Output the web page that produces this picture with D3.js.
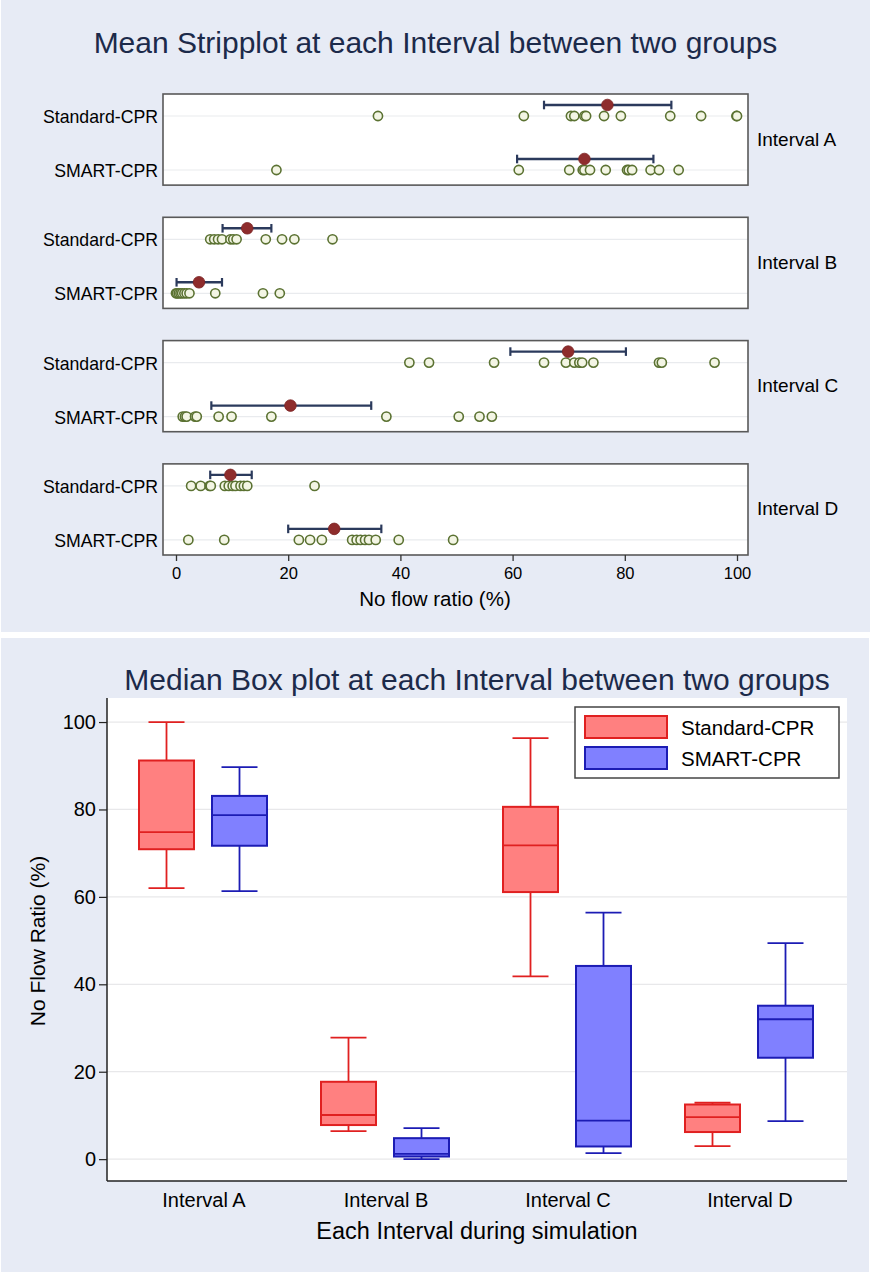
<!DOCTYPE html>
<html>
<head>
<meta charset="utf-8">
<script src="https://cdn.jsdelivr.net/npm/d3@7"></script>
<style>
  html, body { margin: 0; padding: 0; background: #ffffff; }
  svg { display: block; }
  text { font-family: "Liberation Sans", Arial, Helvetica, sans-serif; }
</style>
</head>
<body>
<svg id="chart" width="871" height="1272"></svg>
<script>
// ---------------- DATA ----------------
const intervals = ["Interval A", "Interval B", "Interval C", "Interval D"];
const groups = ["Standard-CPR", "SMART-CPR"];
const stripTicks = [0, 20, 40, 60, 80, 100];
const boxTicks = [0, 20, 40, 60, 80, 100];

// individual observations (strip plot), one list per interval
const stripStandard = [
  [36.0, 62.0, 70.4, 71.0, 72.8, 73.1, 76.3, 79.3, 88.1, 93.6, 99.9, 100],
  [6.1, 6.8, 7.5, 8.2, 9.7, 10.2, 10.8, 16.0, 18.9, 21.1, 27.9],
  [41.6, 45.1, 56.7, 65.6, 69.5, 71.0, 71.9, 72.4, 74.4, 86.1, 86.6, 96.0],
  [2.7, 4.4, 6.0, 6.2, 8.7, 9.4, 10.1, 10.6, 11.5, 12.1, 12.7, 24.7]
];
const stripSmart = [
  [17.9, 61.1, 70.1, 72.5, 72.8, 73.8, 76.6, 80.4, 80.7, 81.3, 84.6, 86.1, 89.6],
  [0, 0.2, 0.5, 0.8, 1.1, 1.5, 1.9, 2.4, 7.0, 15.5, 18.5],
  [1.2, 1.6, 1.9, 3.4, 3.7, 7.6, 9.9, 17.0, 37.5, 50.4, 54.1, 56.3],
  [2.2, 8.6, 21.9, 23.9, 26.0, 31.4, 32.2, 32.9, 33.7, 34.4, 35.6, 39.7, 49.4]
];

// means and 95% CI
const meanStandard   = [76.9, 12.7, 69.9, 9.7];
const ciLowStandard  = [65.6, 8.3, 59.6, 6.1];
const ciHighStandard = [88.3, 17.0, 80.2, 13.5];
const meanSmart   = [72.8, 4.1, 20.4, 28.2];
const ciLowSmart  = [60.8, 0.1, 6.3, 20.0];
const ciHighSmart = [85.1, 8.2, 34.8, 36.6];

// box plot statistics
const boxMinStandard = [62.0, 6.4, 41.8, 3.0];
const boxQ1Standard  = [70.9, 7.8, 61.1, 6.2];
const boxMedStandard = [74.8, 10.1, 71.8, 9.6];
const boxQ3Standard  = [91.2, 17.7, 80.6, 12.5];
const boxMaxStandard = [100, 27.8, 96.3, 12.9];
const boxMinSmart = [61.3, 0, 1.4, 8.7];
const boxQ1Smart  = [71.7, 0.6, 2.9, 23.2];
const boxMedSmart = [78.7, 1.2, 8.8, 32.0];
const boxQ3Smart  = [83.1, 4.8, 44.2, 35.1];
const boxMaxSmart = [89.7, 7.1, 56.4, 49.4];

// ---------------- STYLE ----------------
const BG = "#e7ebf5";
const TITLE = "#1c2a4a";
const PT_STROKE = "#5b7232";
const PT_FILL = "#f3f5e4";
const MEAN_FILL = "#8e2c2c";
const CI_COLOR = "#2b3a5c";
const STD_FILL = "#ff8080", STD_STROKE = "#e02020";
const SM_FILL = "#8080ff", SM_STROKE = "#1c1cb4";
const FONT = "'Liberation Sans', Arial, sans-serif";

const svg = d3.select("#chart");

// backgrounds
svg.append("rect").attr("x", 1).attr("y", 0).attr("width", 869).attr("height", 632).attr("fill", BG);
svg.append("rect").attr("x", 1).attr("y", 638).attr("width", 868).attr("height", 634).attr("fill", BG);

// ================= TOP: STRIP PLOT =================
svg.append("text").attr("x", 435.5).attr("y", 53).attr("text-anchor", "middle")
  .attr("font-size", 30).attr("fill", TITLE)
  .text("Mean Stripplot at each Interval between two groups");

const panelLeft = 163, panelRight = 748;
const xs = d3.scaleLinear().domain([0, 100]).range([176, 737]);
const panelY = d3.scaleBand().domain(intervals).range([94, 555]).paddingInner(0.261).paddingOuter(0);
const rowY = d3.scalePoint().domain(groups).range([22, 76]);
const ph = panelY.bandwidth();

const stripSeries = [
  { g: groups[0], pts: stripStandard, mean: meanStandard, lo: ciLowStandard, hi: ciHighStandard },
  { g: groups[1], pts: stripSmart, mean: meanSmart, lo: ciLowSmart, hi: ciHighSmart }
];

intervals.forEach((iv, i) => {
  const top = panelY(iv);
  const p = svg.append("g").attr("transform", `translate(0,${top})`);
  p.append("rect").attr("x", panelLeft).attr("y", 0).attr("width", panelRight - panelLeft)
    .attr("height", ph).attr("fill", "#ffffff");
  groups.forEach(g => {
    p.append("line").attr("x1", panelLeft).attr("x2", panelRight)
      .attr("y1", rowY(g)).attr("y2", rowY(g)).attr("stroke", "#e9ebee").attr("stroke-width", 1.2);
  });
  stripSeries.forEach(s => {
    const y = rowY(s.g);
    p.append("g").selectAll("circle").data(s.pts[i]).join("circle")
      .attr("cx", d => xs(d)).attr("cy", y).attr("r", 4.6)
      .attr("fill", PT_FILL).attr("stroke", PT_STROKE).attr("stroke-width", 1.6);
    const ym = y - 11;
    p.append("line").attr("x1", xs(s.lo[i])).attr("x2", xs(s.hi[i])).attr("y1", ym).attr("y2", ym)
      .attr("stroke", CI_COLOR).attr("stroke-width", 2.4);
    [s.lo[i], s.hi[i]].forEach(v => {
      p.append("line").attr("x1", xs(v)).attr("x2", xs(v)).attr("y1", ym - 4.3).attr("y2", ym + 4.3)
        .attr("stroke", CI_COLOR).attr("stroke-width", 2.2);
    });
    p.append("circle").attr("cx", xs(s.mean[i])).attr("cy", ym).attr("r", 5.8)
      .attr("fill", MEAN_FILL).attr("stroke", "#7a2222").attr("stroke-width", 0.8);
    p.append("text").attr("x", 158).attr("y", y + 1).attr("text-anchor", "end")
      .attr("dominant-baseline", "central").attr("font-size", 17.7).attr("fill", "#000")
      .text(s.g);
  });
  p.append("rect").attr("x", panelLeft).attr("y", 0).attr("width", panelRight - panelLeft)
    .attr("height", ph).attr("fill", "none").attr("stroke", "#595959").attr("stroke-width", 1.6);
  p.append("text").attr("x", 757).attr("y", 45).attr("dominant-baseline", "central")
    .attr("font-size", 19).attr("fill", "#000").text(iv);
});

const xAxis = svg.append("g").attr("transform", `translate(0,${555})`)
  .call(d3.axisBottom(xs).tickValues(stripTicks).tickSize(6).tickPadding(6).tickFormat(d3.format("d")));
xAxis.select(".domain").remove();
xAxis.selectAll(".tick line").attr("stroke", "#333").attr("stroke-width", 1.3);
xAxis.selectAll("text").attr("font-size", 16.5).attr("fill", "#000").attr("font-family", FONT);

svg.append("text").attr("x", 435).attr("y", 606).attr("text-anchor", "middle")
  .attr("font-size", 20.5).attr("fill", "#000").text("No flow ratio (%)");

// ================= BOTTOM: BOX PLOT =================
svg.append("text").attr("x", 477).attr("y", 690).attr("text-anchor", "middle")
  .attr("font-size", 30).attr("fill", TITLE)
  .text("Median Box plot at each Interval between two groups");

const plotL = 107, plotR = 847, plotT = 698, plotB = 1181;
svg.append("rect").attr("x", plotL).attr("y", plotT).attr("width", plotR - plotL)
  .attr("height", plotB - plotT).attr("fill", "#ffffff");

const yb = d3.scaleLinear().domain([-5, 105.5]).range([plotB, plotT]);
const xb = d3.scaleBand().domain(intervals).range([113, 841]).padding(0);
const xg = d3.scalePoint().domain(groups).range([53.5, 126.5]);

svg.append("g").selectAll("line").data(boxTicks).join("line")
  .attr("x1", plotL).attr("x2", plotR).attr("y1", d => yb(d)).attr("y2", d => yb(d))
  .attr("stroke", "#e8e8ea").attr("stroke-width", 1.3);

const boxSeries = [
  { g: groups[0], fill: STD_FILL, stroke: STD_STROKE, mn: boxMinStandard, q1: boxQ1Standard, md: boxMedStandard, q3: boxQ3Standard, mx: boxMaxStandard },
  { g: groups[1], fill: SM_FILL, stroke: SM_STROKE, mn: boxMinSmart, q1: boxQ1Smart, md: boxMedSmart, q3: boxQ3Smart, mx: boxMaxSmart }
];
const boxW = 55, capW = 36;
boxSeries.forEach(s => {
  intervals.forEach((iv, i) => {
    const cx = xb(iv) + xg(s.g);
    const g = svg.append("g");
    g.append("line").attr("x1", cx).attr("x2", cx).attr("y1", yb(s.q3[i])).attr("y2", yb(s.mx[i]))
      .attr("stroke", s.stroke).attr("stroke-width", 1.8);
    g.append("line").attr("x1", cx).attr("x2", cx).attr("y1", yb(s.q1[i])).attr("y2", yb(s.mn[i]))
      .attr("stroke", s.stroke).attr("stroke-width", 1.8);
    [s.mx[i], s.mn[i]].forEach(v => {
      g.append("line").attr("x1", cx - capW / 2).attr("x2", cx + capW / 2).attr("y1", yb(v)).attr("y2", yb(v))
        .attr("stroke", s.stroke).attr("stroke-width", 1.8);
    });
    g.append("rect").attr("x", cx - boxW / 2).attr("y", yb(s.q3[i])).attr("width", boxW)
      .attr("height", yb(s.q1[i]) - yb(s.q3[i])).attr("fill", s.fill)
      .attr("stroke", s.stroke).attr("stroke-width", 2);
    g.append("line").attr("x1", cx - boxW / 2).attr("x2", cx + boxW / 2).attr("y1", yb(s.md[i])).attr("y2", yb(s.md[i]))
      .attr("stroke", s.stroke).attr("stroke-width", 1.8);
  });
});

const yAxis = svg.append("g").attr("transform", `translate(${plotL},0)`)
  .call(d3.axisLeft(yb).tickValues(boxTicks).tickSize(8).tickPadding(3));
yAxis.select(".domain").remove();
yAxis.selectAll(".tick line").attr("stroke", "#222").attr("stroke-width", 1.2);
yAxis.selectAll("text").attr("font-size", 20).attr("fill", "#000").attr("font-family", FONT);
svg.append("line").attr("x1", plotL).attr("x2", plotL).attr("y1", plotT).attr("y2", plotB)
  .attr("stroke", "#222").attr("stroke-width", 1.5);

const xAxisB = svg.append("g").attr("transform", `translate(0,${plotB})`)
  .call(d3.axisBottom(xb).tickSize(0).tickPadding(12));
xAxisB.select(".domain").remove();
xAxisB.selectAll("text").attr("font-size", 20).attr("fill", "#000").attr("font-family", FONT);
svg.append("line").attr("x1", plotL).attr("x2", plotR).attr("y1", plotB).attr("y2", plotB)
  .attr("stroke", "#222").attr("stroke-width", 1.5);

svg.append("text").attr("transform", "translate(45,941) rotate(-90)").attr("text-anchor", "middle")
  .attr("font-size", 21).attr("fill", "#000").text("No Flow Ratio (%)");
svg.append("text").attr("x", 477).attr("y", 1239).attr("text-anchor", "middle")
  .attr("font-size", 23.5).attr("fill", "#000").text("Each Interval during simulation");

// legend
const leg = svg.append("g");
leg.append("rect").attr("x", 575).attr("y", 707).attr("width", 264).attr("height", 71)
  .attr("fill", "#ffffff").attr("stroke", "#444").attr("stroke-width", 1.5);
boxSeries.forEach((s, k) => {
  const y0 = 716 + k * 31;
  leg.append("rect").attr("x", 585).attr("y", y0).attr("width", 82).attr("height", 22)
    .attr("fill", s.fill).attr("stroke", s.stroke).attr("stroke-width", 2);
  leg.append("text").attr("x", 681).attr("y", y0 + 11).attr("dominant-baseline", "central")
    .attr("font-size", 20.5).attr("fill", "#000").text(s.g);
});
</script>
</body>
</html>
